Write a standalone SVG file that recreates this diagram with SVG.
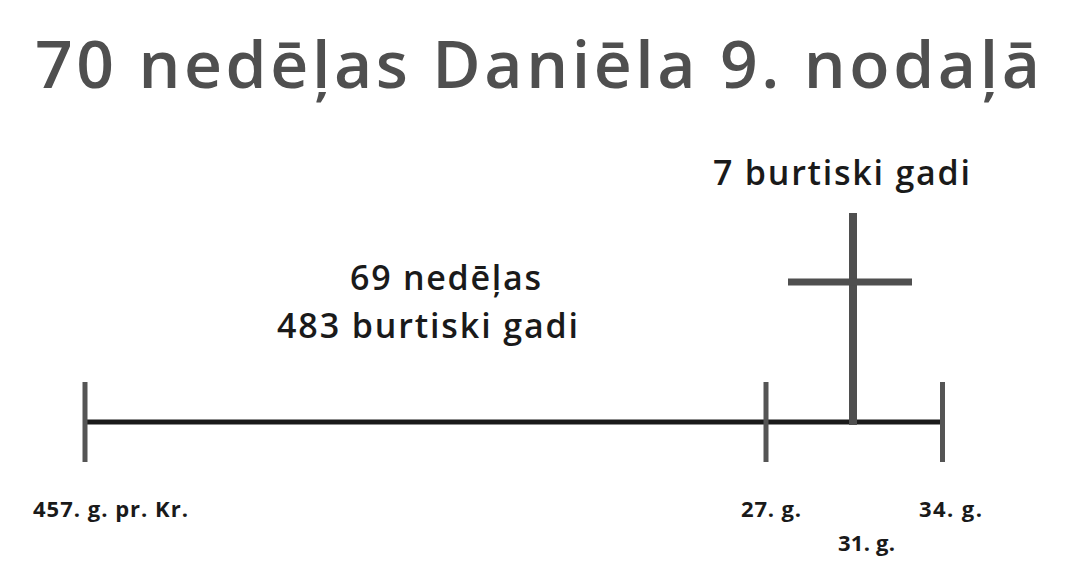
<svg xmlns="http://www.w3.org/2000/svg" width="1068" height="574" viewBox="0 0 1068 574">
<style>
text{font-variant-ligatures:none}
.title{font-family:"Open Sans","Noto Sans","Liberation Sans",sans-serif;font-size:66px;fill:#4f4f4f;font-weight:600}
.lbl{font-family:"Open Sans","Noto Sans","Liberation Sans",sans-serif;font-weight:600;fill:#1a1a1a}
.big{font-size:34px}
.small{font-size:22px;font-weight:700}
.tick{stroke:#555;stroke-width:5}
.axis{stroke:#1a1a1a;stroke-width:5}
.cross{stroke:#4f4f4f}
</style>
<rect width="1068" height="574" fill="#fff"/>
<text class="title" x="35" y="88" textLength="1005" lengthAdjust="spacing">70 nedēļas Daniēla 9. nodaļā</text>
<g id="connectors">
<line class="axis" x1="85" y1="422" x2="942" y2="422"/>
</g>
<g id="tick-457">
<line class="tick" x1="85" y1="382" x2="85" y2="462"/>
<text class="lbl small" x="33" y="517" textLength="155" lengthAdjust="spacing">457. g. pr. Kr.</text>
</g>
<g id="tick-27">
<line class="tick" x1="766" y1="382" x2="766" y2="462"/>
<text class="lbl small" x="741" y="517" textLength="60" lengthAdjust="spacing">27. g.</text>
</g>
<g id="tick-34">
<line class="tick" x1="942.5" y1="382" x2="942.5" y2="462"/>
<text class="lbl small" x="919" y="517" textLength="63" lengthAdjust="spacing">34. g.</text>
</g>
<g id="cross-31">
<line class="cross" x1="853" y1="213" x2="853" y2="425" stroke-width="8"/>
<line class="cross" x1="788" y1="282" x2="912" y2="282" stroke-width="7"/>
<text class="lbl small" x="838" y="551" textLength="57" lengthAdjust="spacing">31. g.</text>
</g>
<g id="label-7">
<text class="lbl big" x="713" y="185" textLength="257" lengthAdjust="spacing">7 burtiski gadi</text>
</g>
<g id="label-69">
<text class="lbl big" x="350" y="290" textLength="191" lengthAdjust="spacing">69 nedēļas</text>
<text class="lbl big" x="277" y="338" textLength="301" lengthAdjust="spacing">483 burtiski gadi</text>
</g>
</svg>
